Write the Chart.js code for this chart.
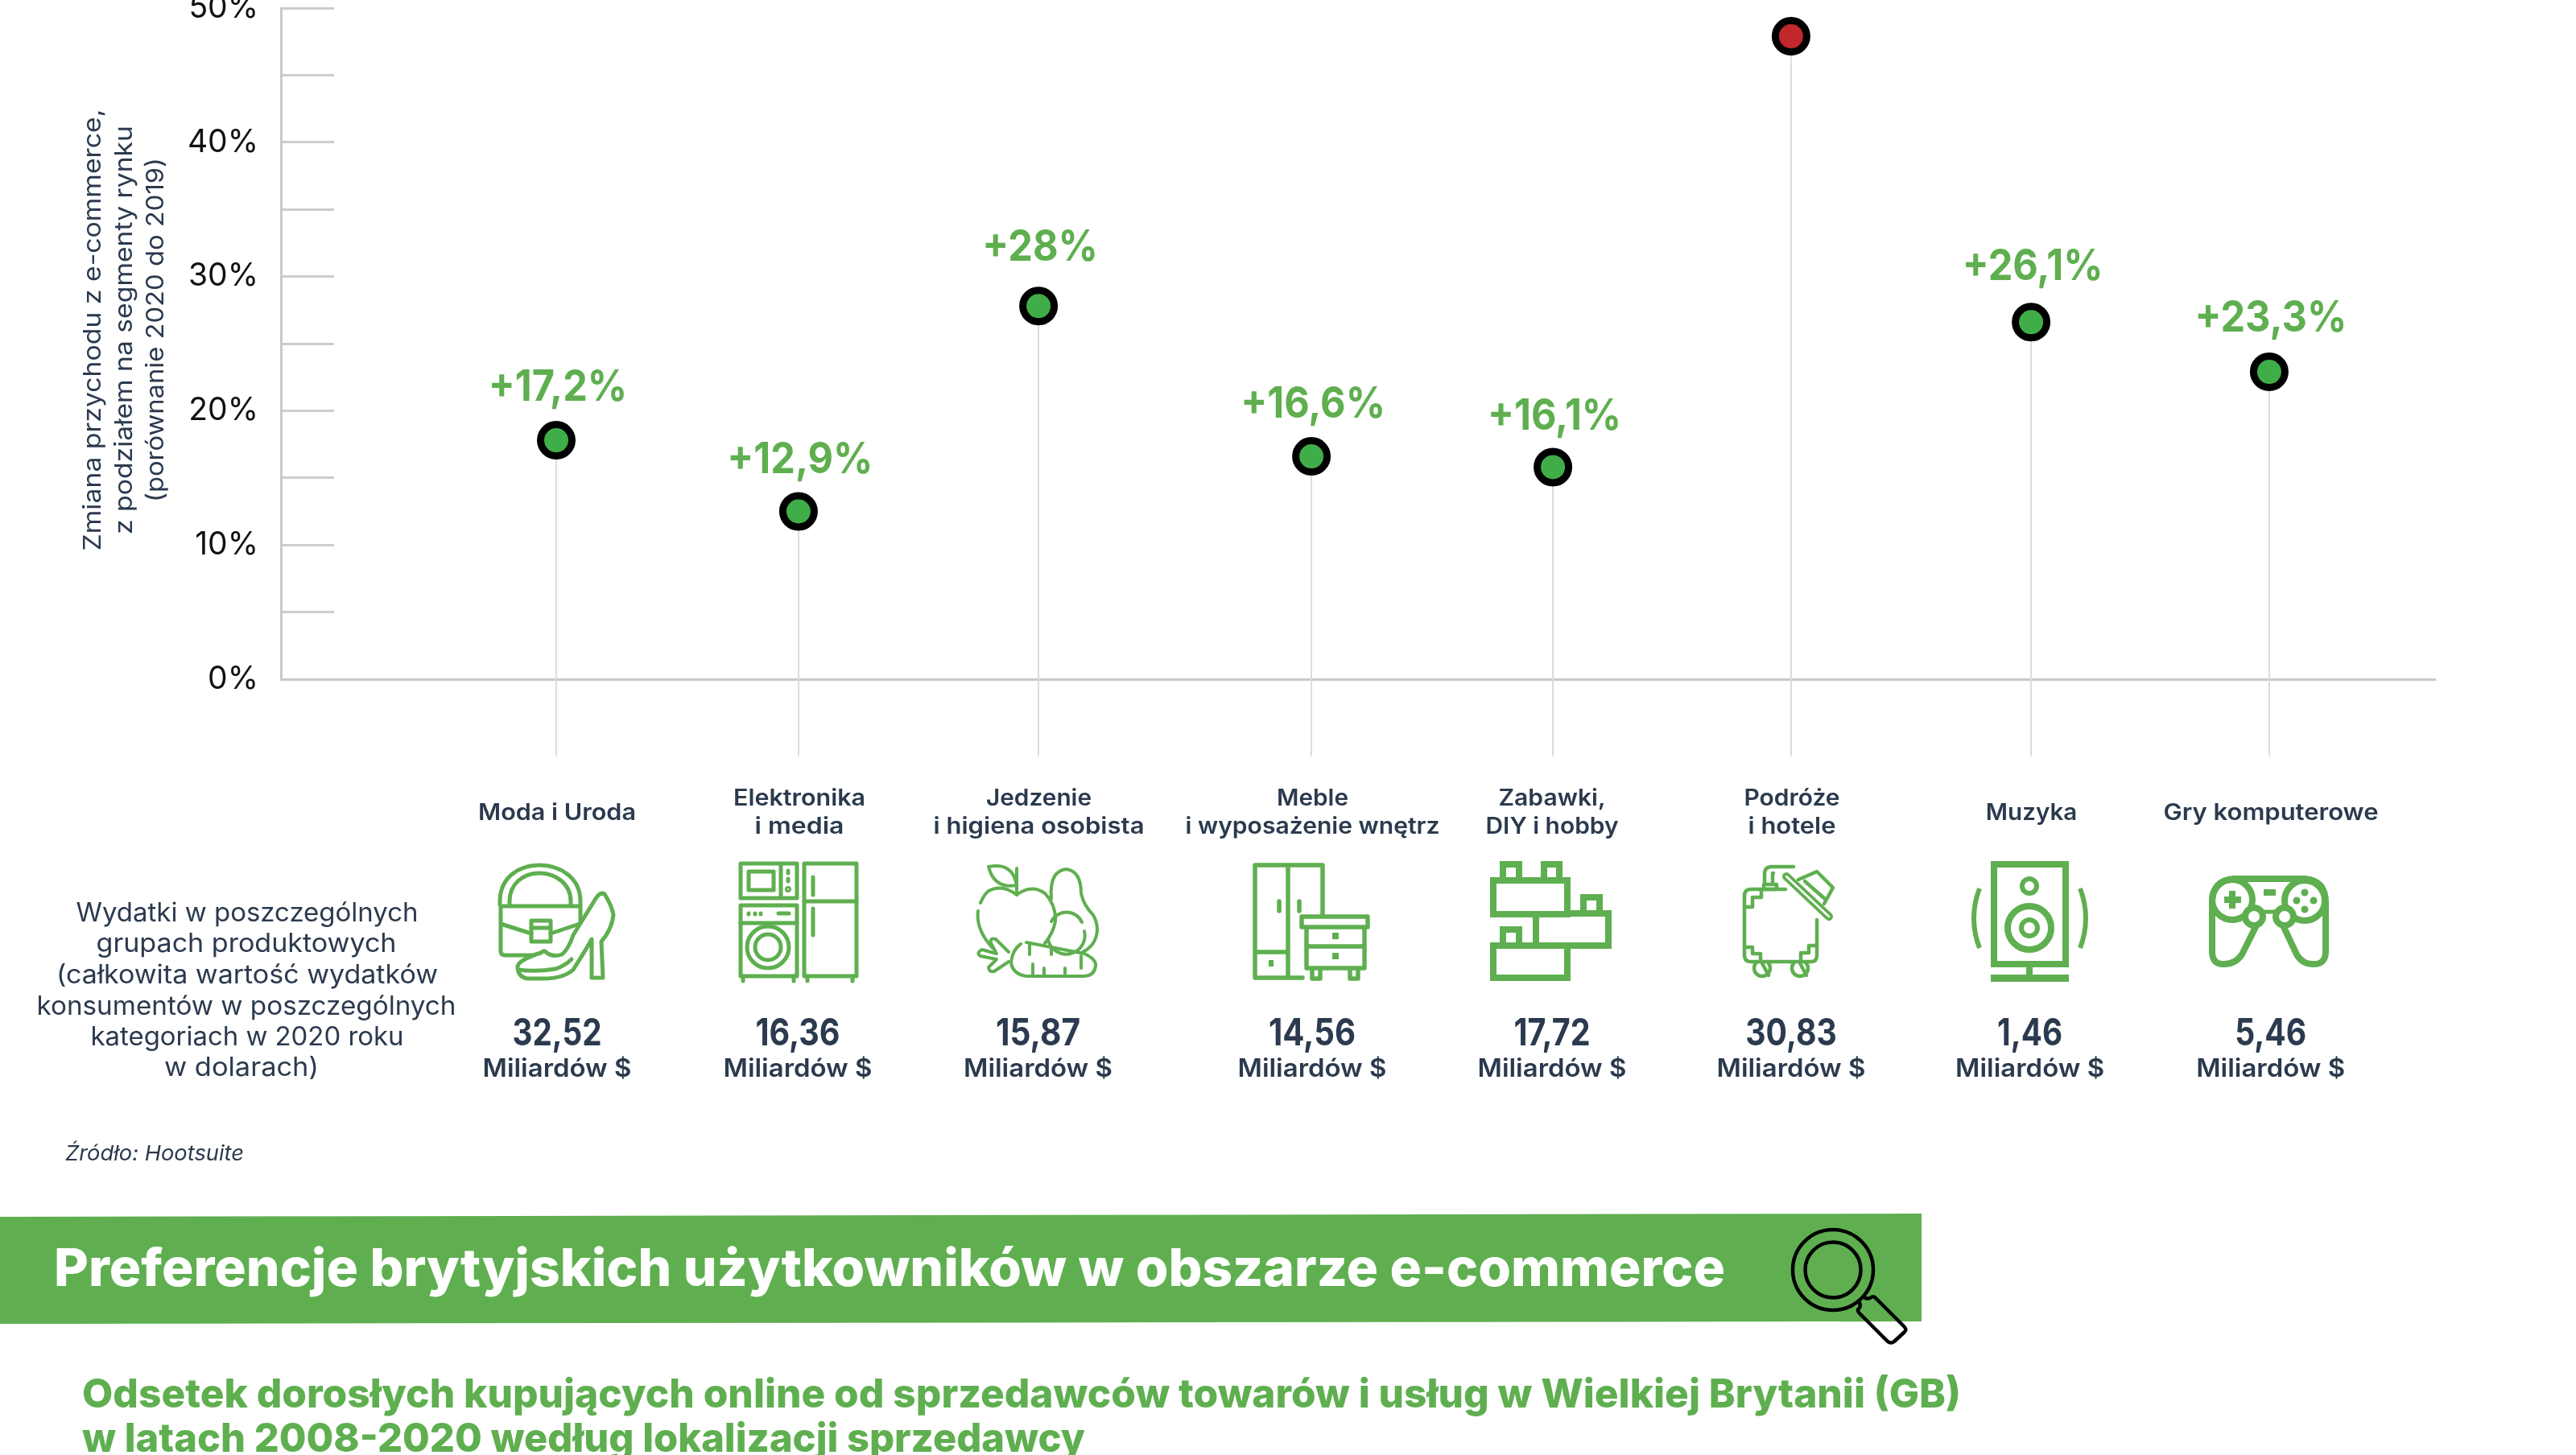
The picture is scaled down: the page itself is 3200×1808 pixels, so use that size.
<!DOCTYPE html>
<html lang="pl"><head><meta charset="utf-8">
<script src="https://cdn.jsdelivr.net/npm/chart.js@4/dist/chart.umd.min.js"></script>
<style>
html,body{margin:0;padding:0;background:#fff;width:3200px;height:1808px;overflow:hidden}
#wrap{position:relative;width:3200px;height:1808px}
canvas,#ov{position:absolute;left:0;top:0}
</style></head><body>
<div id="wrap"><canvas id="c" width="3200" height="1808"></canvas>
<svg id="ov" width="3200" height="1808" viewBox="0 0 3200 1808" xmlns="http://www.w3.org/2000/svg"></svg></div>
<script>
// ---- data ----
const categories = [["Moda i Uroda"],["Elektronika","i media"],["Jedzenie","i higiena osobista"],["Meble","i wyposażenie wnętrz"],["Zabawki,","DIY i hobby"],["Podróże","i hotele"],["Muzyka"],["Gry komputerowe"]];
const revenueChange = [17.8,12.5,27.8,16.6,15.8,47.9,26.6,22.9];
const changeLabels = ["+17,2%","+12,9%","+28%","+16,6%","+16,1%","","+26,1%","+23,3%"];
const spendValues = ["32,52","16,36","15,87","14,56","17,72","30,83","1,46","5,46"];
const spendUnit = "Miliardów $";
const yTicks = [0,10,20,30,40,50];
const yAxisTitle = ["Zmiana przychodu z e-commerce,","z podziałem na segmenty rynku","(porównanie 2020 do 2019)"];
const spendNote = ["Wydatki w poszczególnych","grupach produktowych","(całkowita wartość wydatków","konsumentów w poszczególnych","kategoriach w 2020 roku","w dolarach)"];
const sourceText = "Źródło: Hootsuite";
const bannerTitle = "Preferencje brytyjskich użytkowników w obszarze e-commerce";
const subTitle = ["Odsetek dorosłych kupujących online od sprzedawców towarów i usług w Wielkiej Brytanii (GB)","w latach 2008-2020 według lokalizacji sprzedawcy"];

// ---- layout (separate from the data) ----
const xSlots = [1.14,2.143,3.137,4.267,5.267,6.253,7.247,8.233];   // uneven column positions on the x scale
const stemFloor = -5.75;        // stems run below the zero line
const labelGaps = [49,48,56,48,46,0,52,50];
const GREEN="#5FAF50", INK="#2B3A4E", FONT="Inter, 'Noto Sans', sans-serif";

const stemPlugin = {id:"stems",beforeDatasetsDraw(ch){
  const {ctx,scales:{x,y}}=ch; ctx.save(); ctx.strokeStyle="#DDDDDD"; ctx.lineWidth=2;
  xSlots.forEach((s,i)=>{const px=Math.round(x.getPixelForValue(s));ctx.beginPath();
    ctx.moveTo(px,y.getPixelForValue(revenueChange[i]));ctx.lineTo(px,y.getPixelForValue(stemFloor));ctx.stroke();});
  ctx.restore();
}};
const labelPlugin = {id:"vlabels",afterDatasetsDraw(ch){
  const {ctx}=ch, meta=ch.getDatasetMeta(0); ctx.save();
  ctx.fillStyle=GREEN; ctx.font="700 54px "+FONT; ctx.textAlign="center"; ctx.textBaseline="alphabetic";
  changeLabels.forEach((t,i)=>{ if(!t) return; const p=meta.data[i];
    ctx.save(); ctx.translate(p.x+2,p.y-labelGaps[i]); ctx.scale(0.9,1); ctx.fillText(t,0,0); ctx.restore();});
  ctx.restore();
}};

new Chart(document.getElementById("c"),{
  type:"scatter",
  data:{datasets:[{
    label:"Zmiana przychodu",
    data:revenueChange.map((v,i)=>({x:xSlots[i],y:v})),
    pointRadius:19.5,pointHoverRadius:19.5,pointBorderWidth:9,pointHoverBorderWidth:9,
    pointBorderColor:"#000",
    pointBackgroundColor:revenueChange.map(v=>v>40?"#C1272D":"#3FAE49"),
    clip:false
  }]},
  options:{
    responsive:false,animation:false,devicePixelRatio:1,
    layout:{autoPadding:false,padding:{left:0,top:10,right:175,bottom:964}},
    plugins:{legend:{display:false},tooltip:{enabled:false}},
    scales:{
      x:{type:"linear",min:0,max:8.92,display:true,
        grid:{display:false},border:{display:true,color:"#C9C9C9",width:3},
        ticks:{display:false},
        afterFit(s){s.height=0;s.paddingLeft=0;s.paddingRight=0;}},
      y:{type:"linear",min:0,max:50,
        grid:{drawOnChartArea:false,drawTicks:true,tickLength:-66,color:"#CDCDCD",lineWidth:3},
        border:{display:true,color:"#C9C9C9",width:3},
        ticks:{stepSize:5,autoSkip:false,padding:94,color:"#111",
          font:{family:FONT,size:39,weight:"400",lineHeight:0.2},
          callback:v=>yTicks.includes(v)?v+"%":""},
        afterFit(s){s.width=349;s.paddingTop=0;s.paddingBottom=0;}}
    }
  },
  plugins:[stemPlugin,labelPlugin]
});

// ---- text and pictograms around the chart ----
const ov=document.getElementById("ov"), NS="http://www.w3.org/2000/svg";
function el(n,a,t,p){const e=document.createElementNS(NS,n);for(const k in a)e.setAttribute(k,a[k]);if(t!=null)e.textContent=t;(p||ov).appendChild(e);return e;}
function txt(t,x,y,size,weight,w,o={}){
  return el("text",Object.assign({x,y,"font-family":FONT,"font-size":size,"font-weight":weight,fill:o.fill||INK,
    "text-anchor":o.anchor||"middle",textLength:w,lengthAdjust:"spacingAndGlyphs"},o.extra||{}),t);
}
// banner
el("polygon",{points:"0,1512 2387,1508 2387,1642 0,1645",fill:"#5FAF50"});
txt(bannerTitle,67,1598,65,800,2076,{fill:"#fff",anchor:"start"});
// magnifier
el("circle",{cx:2277,cy:1578,r:50,fill:"none",stroke:"#000","stroke-width":4.5});
el("circle",{cx:2277,cy:1578,r:34.5,fill:"none",stroke:"#000","stroke-width":4.5});
el("path",{d:"M2314 1610 Q2318 1615 2323 1613 Q2326 1610 2329 1612 L2365 1648 Q2369 1652 2366 1655 L2353 1667 Q2349 1670 2345 1667 L2310 1632 Q2306 1628 2310 1625 Q2312 1622 2309 1617",fill:"none",stroke:"#000","stroke-width":4.5,"stroke-linejoin":"round"});
txt(subTitle[0],102,1749,50,800,2334,{fill:GREEN,anchor:"start"});
txt(subTitle[1],102,1804,50,800,1246,{fill:GREEN,anchor:"start"});

// axis title
const titleCfg=[[125,549],[164,508],[203,428]];
yAxisTitle.forEach((t,i)=>txt(t,titleCfg[i][0],410,30,400,titleCfg[i][1],{extra:{transform:`rotate(-90 ${titleCfg[i][0]} 410)`}}));

// column text
const headCx=[692,993,1290.5,1630.5,1928,2226,2523.5,2821];
const headW=[[196],[164,111],[131,262],[89,316],[133,165],[119,109],[113.5],[267]];
categories.forEach((ls,i)=>{
  const ys=ls.length===2?[1001,1036]:[1019];
  ls.forEach((t,j)=>txt(t,headCx[i],ys[j],28,600,headW[i][j]));
});
const valCx=[692,991,1289.5,1630,1928,2225,2521.6,2820.7], valW=[111,105,105,108,95,113.5,81,89];
spendValues.forEach((t,i)=>{
  txt(t,valCx[i],1299,46,700,valW[i]);
  txt(spendUnit,valCx[i],1338,31,600,185);
});
const noteY=[1145,1183,1222,1261,1299,1337], noteW=[425,373,474,521,389,192], noteX=[307,306,307,306,307,300];
spendNote.forEach((t,i)=>txt(t,noteX[i],noteY[i],32,400,noteW[i]));
txt(sourceText,81,1442,26,400,222,{anchor:"start",extra:{"font-style":"italic"}});

// pictograms
function icon(sw,body){const g=el("g",{fill:"none",stroke:GREEN,"stroke-width":sw,"stroke-linejoin":"round","stroke-linecap":"round"});g.innerHTML=body;}
// bag + shoe
icon(5,`<path d="M621 1124V1120C621 1090 645 1075 670 1075C695 1075 721 1090 721 1120V1124"/><path d="M633 1124V1120C633 1098 650 1085 670 1085C690 1085 709 1098 709 1120V1124"/>
<path d="M622 1126H720M622 1126V1182Q622 1187 628 1187H665M622 1148L660 1160M720 1148L684 1160"/><path d="M660 1144H684V1170H660Z"/><path d="M660 1153H684"/><path d="M721 1126V1150"/>
<path fill="#fff" d="M643 1203Q642 1197 652 1192Q664 1186 672 1184Q676 1180 678 1183Q686 1190 698 1186Q706 1180 712 1162L741 1115Q746 1108 751 1111Q760 1125 762 1137Q760 1155 747 1170L749 1215H735V1167Q728 1180 712 1205Q700 1216 674 1216H655Q644 1214 643 1203Z"/><path d="M644 1205Q665 1208 690 1204Q702 1200 710 1192"/>`);
// microwave, washer, fridge
icon(5,`<rect x="920" y="1073" width="70" height="43"/><rect x="930" y="1083" width="31" height="23"/><path d="M970 1074V1115M979 1082V1085M979 1092V1095"/><circle cx="979" cy="1105" r="1.5"/>
<rect x="920" y="1125" width="70" height="88"/><path d="M920 1147H990M930 1135V1136M938 1135V1136M945 1135V1136M967 1135H980"/><circle cx="954" cy="1177" r="26"/><circle cx="954" cy="1177" r="16"/><path d="M923 1213V1219M986 1213V1219"/>
<rect x="999" y="1073" width="65" height="140"/><path d="M999 1120H1064M1010 1090V1112M1010 1129V1162M1003 1213V1219M1059 1213V1219"/>`);
// apple, avocado, carrot
icon(4,`<path d="M1263 1112Q1281 1098 1298 1110Q1312 1125 1311 1145Q1308 1160 1298 1172M1263 1112Q1245 1098 1228 1107Q1222 1112 1218 1122M1215 1132Q1212 1155 1233 1178"/><path d="M1263 1079V1112M1228 1077Q1258 1071 1263 1100Q1235 1105 1228 1077Z"/>
<path d="M1306 1117Q1303 1082 1325 1080Q1343 1083 1343 1110Q1346 1125 1358 1137Q1368 1155 1358 1172Q1352 1180 1345 1183"/><path d="M1344 1146A21 21 0 0 0 1306 1145M1302 1168A21 21 0 0 0 1347 1157"/>
<path d="M1275 1171L1347 1185Q1362 1192 1361 1200Q1360 1212 1347 1213H1275Q1257 1210 1256 1195Q1258 1180 1268 1173"/><path d="M1253 1183L1237 1167Q1229 1165 1231 1172L1238 1185L1220 1180Q1212 1184 1218 1188L1238 1192L1228 1202Q1228 1208 1235 1207L1253 1195"/>
<path d="M1279 1173V1186M1306 1178V1186M1343 1188V1203M1283 1198V1213M1297 1203V1213M1323 1203V1213"/>`);
// wardrobe + nightstand
icon(5.5,`<path d="M1618 1215H1559V1075H1643V1138M1600 1076V1215M1559 1183H1600M1589 1120V1132M1614 1120V1132"/><rect x="1576" y="1193" width="6" height="8" fill="${GREEN}" stroke="none"/>
<rect x="1617" y="1139" width="82" height="13"/><path d="M1623 1153V1203H1695V1153M1623 1176H1695M1630 1204V1216H1640V1204M1677 1204V1216H1687V1204"/><rect x="1655" y="1159" width="8" height="8" fill="${GREEN}" stroke="none"/><rect x="1655" y="1184" width="8" height="8" fill="${GREEN}" stroke="none"/>`);
// bricks
icon(8,`<path stroke-linejoin="miter" stroke-linecap="butt" d="M1855 1094H1947V1136H1855ZM1867 1090V1074H1887V1090M1918 1090V1074H1937V1090M1908 1136V1175H1998V1135H1947M1967 1131V1115H1987V1131M1855 1175H1947V1215H1855ZM1867 1171V1155H1887V1171"/>`);
// suitcase + hat
icon(4.5,`<circle cx="2189" cy="1203" r="10" /><circle cx="2236" cy="1203" r="10"/><path fill="#fff" stroke="none" d="M2170 1180H2255V1194H2170Z"/><path d="M2218 1105H2175Q2167 1105 2167 1113V1187Q2167 1195 2175 1195H2250Q2257 1195 2257 1187V1143"/>
<path d="M2168 1127H2177V1115H2188V1105M2168 1177H2177V1185H2187V1195M2255 1175H2247V1184H2237V1195M2189 1197L2197 1212M2236 1197L2244 1212"/>
<path d="M2192 1098V1086Q2192 1077 2201 1077H2228M2203 1085H2202V1098M2191 1099H2207V1105H2191Z"/>
<path d="M2219 1089L2272 1139" stroke-width="10"/><path d="M2219 1089L2272 1139" stroke="#fff" stroke-width="2.5"/><path d="M2234 1093L2257 1083L2277 1103L2266 1123M2242 1095L2267 1117"/>`);
// speaker
icon(8,`<path stroke-linecap="butt" stroke-linejoin="miter" d="M2477 1074H2566V1198H2477ZM2521 1198V1212"/><path stroke-linecap="butt" stroke-width="9" d="M2473 1215.5H2570"/><circle cx="2521" cy="1101" r="9" stroke-width="6"/><circle cx="2521" cy="1153" r="27" stroke-width="8"/><circle cx="2521" cy="1153" r="10" stroke-width="6"/>
<path stroke-linecap="butt" stroke-width="6" d="M2459 1104Q2445 1141 2459 1178M2584 1104Q2598 1141 2584 1178"/>`);
// gamepad
icon(8,`<path d="M2775 1092H2863Q2889 1094 2889 1122V1182Q2889 1199 2873 1198Q2860 1198 2853 1186L2837 1152M2775 1092Q2748 1094 2748 1122V1182Q2748 1199 2763 1198Q2777 1198 2785 1186L2802 1152"/><circle cx="2773" cy="1118" r="25"/><circle cx="2863" cy="1119" r="25"/><circle cx="2800" cy="1139" r="11" fill="#fff"/><circle cx="2838" cy="1139" r="11" fill="#fff"/><path d="M2812 1133H2826" stroke-width="5"/>
<path stroke="none" fill="${GREEN}" d="M2769 1107H2777V1114H2784V1122H2777V1129H2769V1122H2763V1114H2769ZM2812 1105H2827V1113H2812Z"/><g stroke="none" fill="${GREEN}"><circle cx="2863" cy="1109" r="4.5"/><circle cx="2863" cy="1130" r="4.5"/><circle cx="2853" cy="1119" r="4.5"/><circle cx="2874" cy="1119" r="4.5"/></g>`);
</script>
</body></html>
